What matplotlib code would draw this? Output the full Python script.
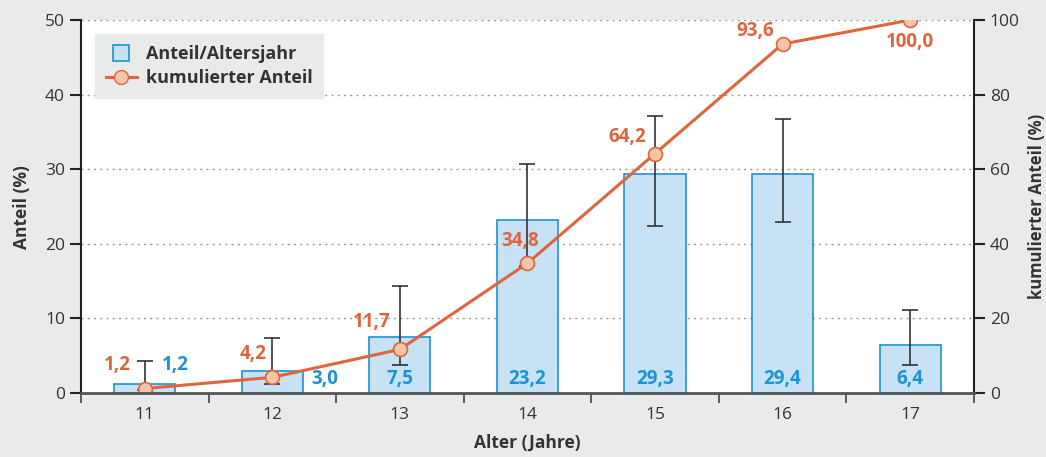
import matplotlib
matplotlib.use("Agg")
import matplotlib.pyplot as plt
from matplotlib.lines import Line2D
import numpy as np

# Daten
ages = ["11", "12", "13", "14", "15", "16", "17"]
share = [1.2, 3.0, 7.5, 23.2, 29.3, 29.4, 6.4]
err_low = [0.4, 1.2, 3.8, 17.0, 22.4, 22.9, 3.7]
err_high = [4.3, 7.4, 14.3, 30.7, 37.1, 36.8, 11.1]
cumulative = [1.2, 4.2, 11.7, 34.8, 64.2, 93.6, 100.0]

BG = "#e9ebea"
BLUE = "#1a94d4"
BAR_FILL = "#c6e2f4"
ORANGE = "#e0643c"
MARKER_FILL = "#f5c5aa"
TEXT = "#333333"

plt.rcParams["font.family"] = ["Open Sans", "DejaVu Sans"]


def fmt(v):
    return f"{v:.1f}".replace(".", ",")


def main() -> None:
    fig = plt.figure(figsize=(10.46, 4.57), dpi=100, facecolor=BG)
    ax = fig.add_axes([0.0774, 0.140, 0.8537, 0.816])
    ax2 = ax.twinx()
    ax.set_zorder(ax2.get_zorder() + 1)
    ax.patch.set_visible(False)
    ax2.patch.set_visible(True)
    ax2.patch.set_facecolor("white")

    x = np.arange(len(ages))
    share_arr = np.array(share)
    yerr = [share_arr - np.array(err_low), np.array(err_high) - share_arr]

    ax.bar(x, share, width=0.48, color=BAR_FILL, edgecolor=BLUE, linewidth=1.2, zorder=2)
    ax.errorbar(x, share, yerr=yerr, fmt="none", ecolor=TEXT, elinewidth=1.2,
                capsize=6, capthick=1.2, zorder=3)

    # kumulierte Linie auf der rechten Skala, in linke Skala umgerechnet
    cum_left = np.array(cumulative) / 2.0
    ax.plot(x, cum_left, color=ORANGE, linewidth=2.2, marker="o", markersize=10,
            markerfacecolor=MARKER_FILL, markeredgecolor=ORANGE, markeredgewidth=1.2, zorder=4)

    ax.set_xlim(-0.5, len(ages) - 0.5)
    ax.set_ylim(0, 50)
    ax2.set_ylim(0, 100)
    ax.set_yticks(range(0, 51, 10))
    ax2.set_yticks(range(0, 101, 20))

    for y in range(10, 51, 10):
        ax.axhline(y, color="#9a9a9a", linewidth=1.0, linestyle=(0, (1.5, 3)), zorder=1)

    ax.set_xticks(x)
    ax.set_xticklabels(ages)
    ax.set_xticks(np.arange(-0.5, len(ages), 1.0), minor=True)
    ax.tick_params(axis="x", which="major", length=0, pad=10, labelsize=12.5, labelcolor=TEXT)
    ax.tick_params(axis="x", which="minor", length=7, width=1.2, color="#444444", direction="out")
    ax.tick_params(axis="y", length=8, width=1.5, color="#222222", labelsize=12.5, labelcolor=TEXT)
    ax2.tick_params(axis="y", length=8, width=1.5, color="#222222", labelsize=12.5, labelcolor=TEXT)

    for a in (ax, ax2):
        a.spines["top"].set_visible(False)
    ax.spines["right"].set_visible(False)
    ax2.spines["left"].set_visible(False)
    ax2.spines["bottom"].set_visible(False)
    ax.spines["left"].set_color("#222222")
    ax.spines["left"].set_linewidth(1.5)
    ax2.spines["right"].set_color("#222222")
    ax2.spines["right"].set_linewidth(1.5)
    ax.spines["bottom"].set_color("#555555")
    ax.spines["bottom"].set_linewidth(2.0)
    ax.spines["bottom"].set_zorder(5)

    ax.set_xlabel("Alter (Jahre)", fontsize=12.5, fontweight="bold", color=TEXT, labelpad=8)
    ax.set_ylabel("Anteil (%)", fontsize=12.5, fontweight="bold", color=TEXT, labelpad=10)
    ax2.set_ylabel("kumulierter Anteil (%)", fontsize=12, fontweight="bold", color=TEXT, labelpad=6)

    # Beschriftungen der Balken (blau)
    for i, v in enumerate(share):
        if i == 0:
            ax.annotate(fmt(v), (x[i], v), xytext=(22, 14), textcoords="offset points",
                        ha="center", va="center", color=BLUE, fontsize=13.5, fontweight="bold", zorder=6)
        elif i == 1:
            ax.annotate(fmt(v), (x[i], 0), xytext=(38, 10), textcoords="offset points",
                        ha="center", va="center", color=BLUE, fontsize=13.5, fontweight="bold", zorder=6)
        else:
            ax.annotate(fmt(v), (x[i], 0), xytext=(0, 10), textcoords="offset points",
                        ha="center", va="center", color=BLUE, fontsize=13.5, fontweight="bold", zorder=6)

    # Beschriftungen der kumulierten Werte (orange)
    cum_offsets = [(-20, 17), (-14, 17), (-20, 20), (-5, 16), (-20, 12), (-20, 9), (0, -16)]
    for i, v in enumerate(cum_left):
        dx, dy = cum_offsets[i]
        ax.annotate(fmt(cumulative[i]), (x[i], v), xytext=(dx, dy), textcoords="offset points",
                    ha="center", va="center", color=ORANGE, fontsize=13.5, fontweight="bold", zorder=6)

    handles = [
        Line2D([], [], linestyle="none", marker="s", markersize=11, markerfacecolor=BAR_FILL,
               markeredgecolor=BLUE, markeredgewidth=1.2),
        Line2D([], [], color=ORANGE, linewidth=2.2, marker="o", markersize=10,
               markerfacecolor=MARKER_FILL, markeredgecolor=ORANGE),
    ]
    leg = ax.legend(handles, ["Anteil/Altersjahr", "kumulierter Anteil"], loc="upper left",
                    bbox_to_anchor=(0.016, 0.962), frameon=True, fancybox=False, facecolor=BG,
                    edgecolor=BG, framealpha=1.0, prop={"size": 13, "weight": "bold"},
                    handlelength=1.7, handletextpad=0.5, borderpad=0.6, labelspacing=0.35,
                    borderaxespad=0)
    for t in leg.get_texts():
        t.set_color(TEXT)
    leg.set_zorder(7)

    fig.savefig("out.png", dpi=100, facecolor=BG)
    plt.close(fig)


if __name__ == "__main__":
    main()
